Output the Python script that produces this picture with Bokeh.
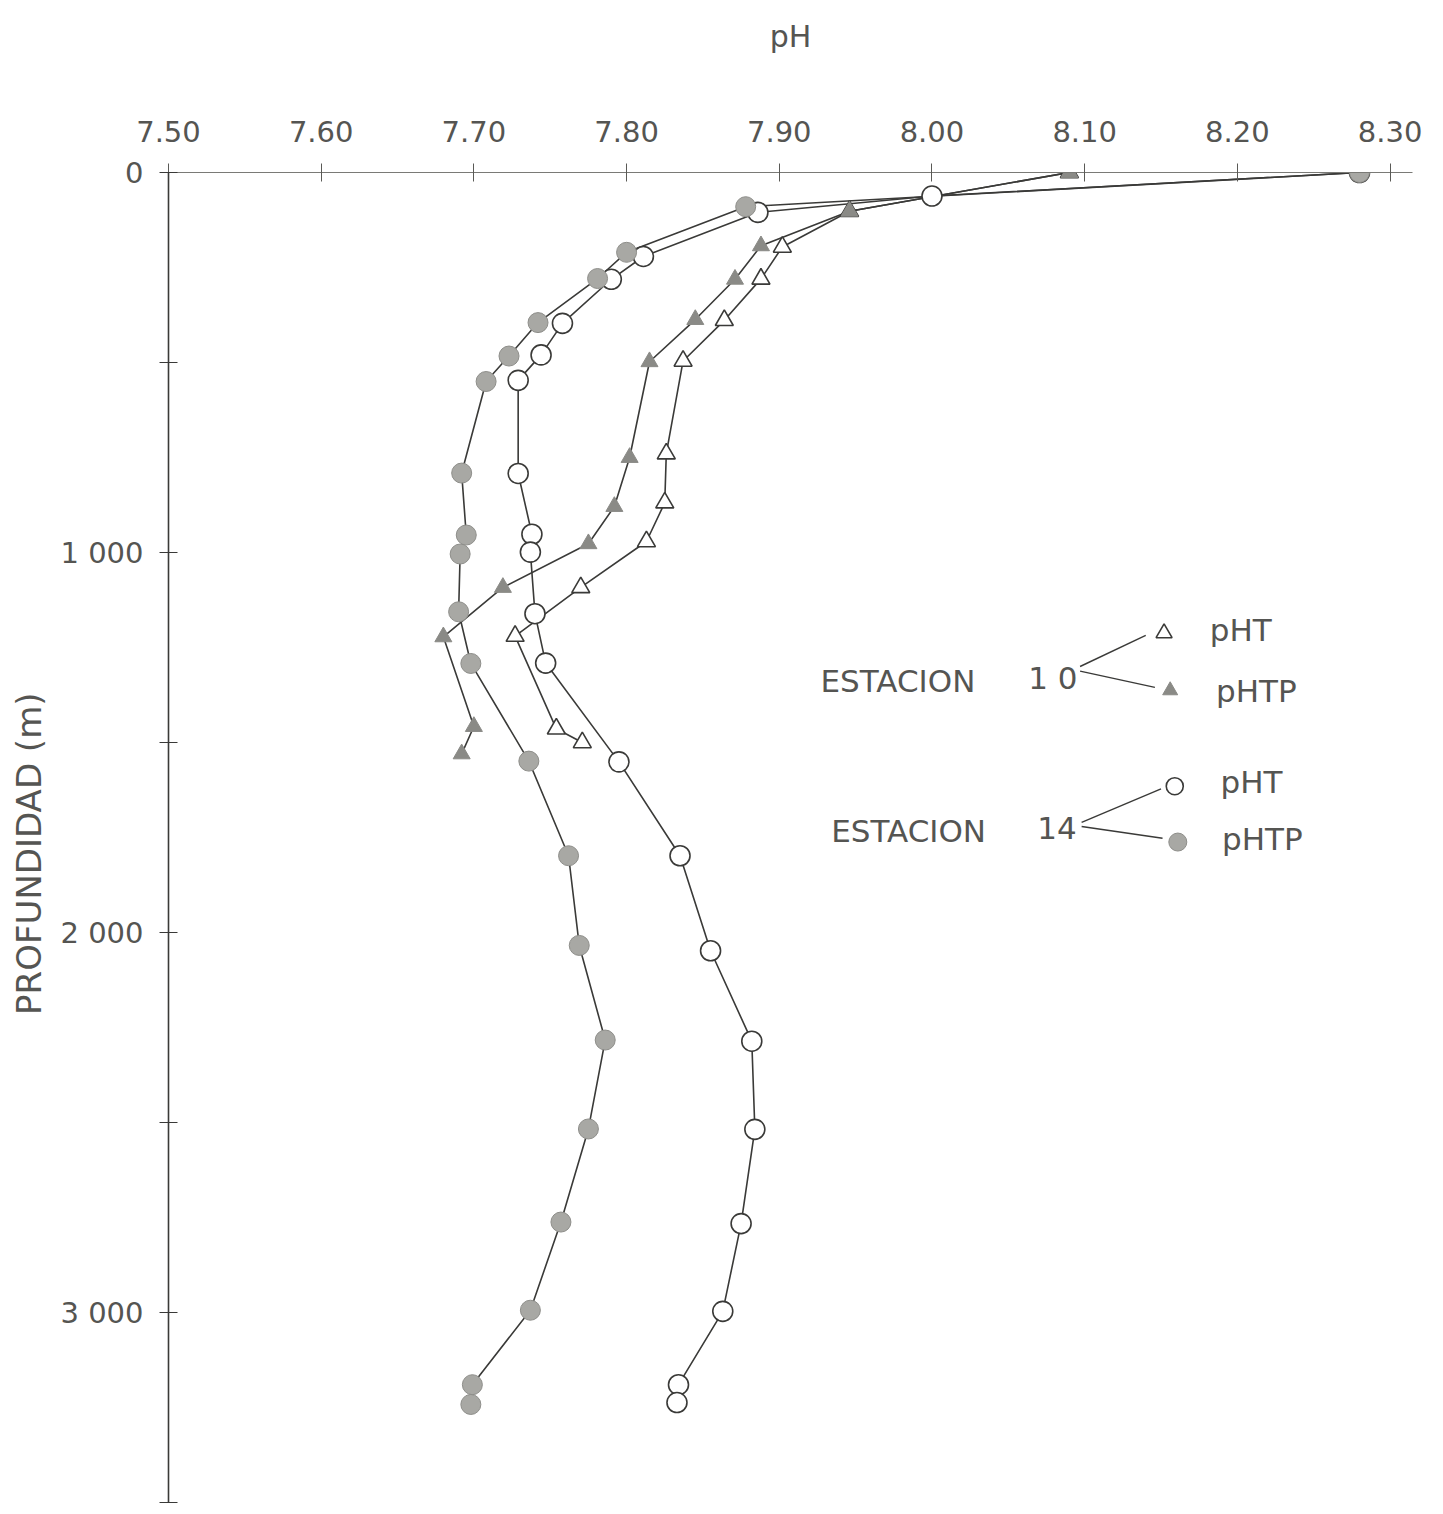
from bokeh.plotting import figure
from bokeh.models import Range1d, FixedTicker
from bokeh.core.properties import value
from bokeh.embed import file_html
from bokeh.resources import INLINE

# ---------------- data ----------------
X_TICKS = [7.50, 7.60, 7.70, 7.80, 7.90, 8.00, 8.10, 8.20, 8.30]
X_TICK_LABELS = ["7.50", "7.60", "7.70", "7.80", "7.90", "8.00", "8.10", "8.20", "8.30"]
Y_TICKS = [0, 500, 1000, 1500, 2000, 2500, 3000, 3500]
Y_TICK_LABELS = ["0", "", "1 000", "", "2 000", "", "3 000", ""]

# Estacion 10
est10_pht_depth = [0, 102, 196, 280, 389, 496, 740, 869, 971, 1092, 1220, 1464, 1500]
est10_pht_ph = [8.09, 7.946, 7.902, 7.888, 7.864, 7.837, 7.826, 7.825, 7.813, 7.770, 7.727, 7.754, 7.771]
est10_phtp_depth = [0, 102, 193, 281, 387, 498, 750, 879, 977, 1092, 1222, 1458, 1530]
est10_phtp_ph = [8.09, 7.946, 7.888, 7.871, 7.845, 7.815, 7.802, 7.792, 7.775, 7.719, 7.680, 7.700, 7.692]

# Estacion 14
est14_pht_depth = [0, 62, 105, 221, 281, 397, 480, 547, 792, 952, 999, 1161, 1291, 1551,
                   1798, 2048, 2286, 2518, 2766, 2997, 3190, 3237]
est14_pht_ph = [8.28, 8.00, 7.886, 7.811, 7.790, 7.758, 7.744, 7.729, 7.729, 7.738, 7.737,
                7.740, 7.747, 7.795, 7.835, 7.855, 7.882, 7.884, 7.875, 7.863, 7.834, 7.833]
est14_phtp_depth = [0, 90, 210, 279, 395, 483, 550, 791, 954, 1004, 1156, 1292, 1549,
                    1798, 2034, 2283, 2517, 2762, 2994, 3190, 3242]
est14_phtp_ph = [8.28, 7.878, 7.800, 7.781, 7.742, 7.723, 7.708, 7.692, 7.695, 7.691, 7.690,
                 7.698, 7.736, 7.762, 7.769, 7.786, 7.775, 7.757, 7.737, 7.699, 7.698]

# ---------------- styles ----------------
FONT = "DejaVu Sans"
TXT = "#555552"
LINE = "#3a3a38"
GREY_FILL = "#a8a8a4"
GREY_EDGE = "#8e8e8a"
TRI_FILL = "#8a8a86"

p = figure(width=1430, height=1510,
           x_range=Range1d(7.50, 8.3147), y_range=Range1d(3500, 0),
           x_axis_location="above",
           output_backend="svg", toolbar_location=None,
           min_border_left=168, min_border_top=172, min_border_right=18, min_border_bottom=8,
           background_fill_color="white", border_fill_color="white")
p.outline_line_color = None
p.grid.visible = False

# x axis (top)
xa = p.xaxis[0]
xa.ticker = FixedTicker(ticks=X_TICKS)
xa.major_label_overrides = {t: l for t, l in zip(X_TICKS, X_TICK_LABELS)}
xa.axis_label = "pH"
xa.axis_label_standoff = 64
xa.axis_label_text_font = FONT
xa.axis_label_text_font_size = "30px"
xa.axis_label_text_font_style = "normal"
xa.axis_label_text_color = TXT
xa.major_label_text_font = FONT
xa.major_label_text_font_size = "29px"
xa.major_label_text_color = TXT
xa.major_label_standoff = 22
xa.axis_line_color = "#7a7a76"
xa.axis_line_width = 1.2
xa.major_tick_line_color = "#5a5a56"
xa.major_tick_in = 9
xa.major_tick_out = 9
xa.minor_tick_line_color = None

# y axis (left)
ya = p.yaxis[0]
ya.ticker = FixedTicker(ticks=Y_TICKS)
ya.major_label_overrides = {t: l for t, l in zip(Y_TICKS, Y_TICK_LABELS)}
ya.axis_label = "PROFUNDIDAD    (m)"
ya.axis_label_standoff = 8
ya.axis_label_text_font = FONT
ya.axis_label_text_font_size = "34px"
ya.axis_label_text_font_style = "normal"
ya.axis_label_text_color = TXT
ya.major_label_text_font = FONT
ya.major_label_text_font_size = "29px"
ya.major_label_text_color = TXT
ya.major_label_standoff = 16
ya.major_label_orientation = "horizontal"
ya.axis_line_color = "#3a3a38"
ya.axis_line_width = 1.6
ya.major_tick_line_color = "#3a3a38"
ya.major_tick_in = 9
ya.major_tick_out = 9
ya.minor_tick_line_color = None

# ---------------- profiles ----------------
for xs, ys in [(est10_pht_ph, est10_pht_depth), (est10_phtp_ph, est10_phtp_depth),
               (est14_pht_ph, est14_pht_depth), (est14_phtp_ph, est14_phtp_depth)]:
    p.line(xs, ys, line_color=LINE, line_width=1.6)

p.scatter(est10_pht_ph, est10_pht_depth, marker="triangle", size=18,
          fill_color="white", line_color=LINE, line_width=1.6)
p.scatter(est14_pht_ph, est14_pht_depth, marker="circle", size=20,
          fill_color="white", line_color=LINE, line_width=1.6)
p.scatter(est10_phtp_ph, est10_phtp_depth, marker="triangle", size=17,
          fill_color=TRI_FILL, line_color=TRI_FILL, line_width=1)
p.scatter(est14_phtp_ph, est14_phtp_depth, marker="circle", size=20,
          fill_color=GREY_FILL, line_color=GREY_EDGE, line_width=1)

# ---------------- legend (layout in data units) ----------------
leg_text_size = "31px"
# Estacion 10
p.text([7.927], [1337], text=["ESTACION"], text_font=value(FONT), text_font_size=leg_text_size,
       text_color=TXT, text_baseline="middle", text_align="left")
p.text([8.063], [1330], text=["1 0"], text_font=value(FONT), text_font_size=leg_text_size,
       text_color=TXT, text_baseline="middle", text_align="left")
p.segment(x0=[8.097, 8.097], y0=[1300, 1312], x1=[8.140, 8.146], y1=[1218, 1355],
          line_color=LINE, line_width=1.4)
p.scatter([8.152], [1212], marker="triangle", size=16, fill_color="white",
          line_color=LINE, line_width=1.6)
p.scatter([8.156], [1363], marker="triangle", size=15, fill_color=TRI_FILL,
          line_color=TRI_FILL, line_width=1)
p.text([8.182], [1205], text=["pHT"], text_font=value(FONT), text_font_size=leg_text_size,
       text_color=TXT, text_baseline="middle", text_align="left")
p.text([8.186], [1365], text=["pHTP"], text_font=value(FONT), text_font_size=leg_text_size,
       text_color=TXT, text_baseline="middle", text_align="left")
# Estacion 14
p.text([7.934], [1733], text=["ESTACION"], text_font=value(FONT), text_font_size=leg_text_size,
       text_color=TXT, text_baseline="middle", text_align="left")
p.text([8.069], [1725], text=["14"], text_font=value(FONT), text_font_size=leg_text_size,
       text_color=TXT, text_baseline="middle", text_align="left")
p.segment(x0=[8.098, 8.098], y0=[1710, 1721], x1=[8.150, 8.151], y1=[1622, 1752],
          line_color=LINE, line_width=1.4)
p.scatter([8.159], [1615], marker="circle", size=17, fill_color="white",
          line_color=LINE, line_width=1.6)
p.scatter([8.161], [1762], marker="circle", size=18, fill_color=GREY_FILL,
          line_color=GREY_EDGE, line_width=1)
p.text([8.189], [1605], text=["pHT"], text_font=value(FONT), text_font_size=leg_text_size,
       text_color=TXT, text_baseline="middle", text_align="left")
p.text([8.190], [1755], text=["pHTP"], text_font=value(FONT), text_font_size=leg_text_size,
       text_color=TXT, text_baseline="middle", text_align="left")

open("out.html", "w").write(file_html(p, INLINE))
